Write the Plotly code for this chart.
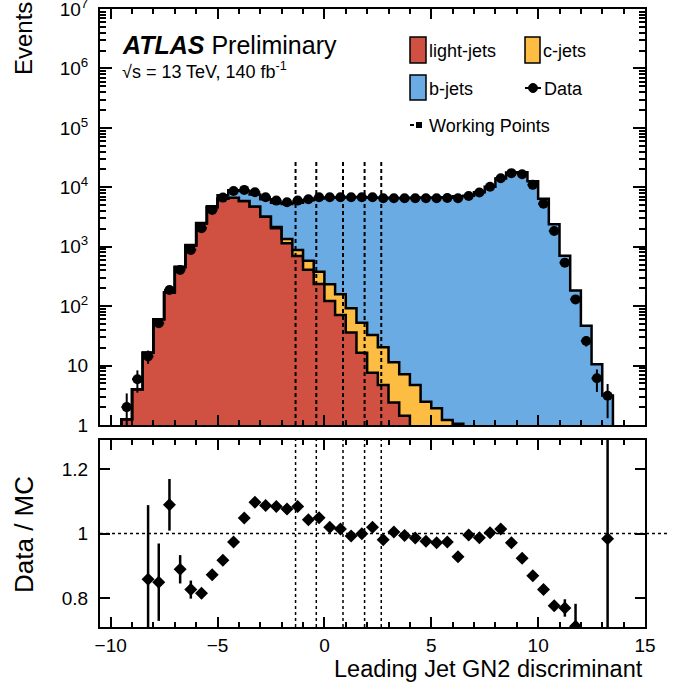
import plotly.graph_objects as go

# ---------------- data ----------------
BIN_EDGES = [-9.5, -9.0, -8.5, -8.0, -7.5, -7.0, -6.5, -6.0, -5.5, -5.0, -4.5, -4.0,
             -3.5, -3.0, -2.5, -2.0, -1.5, -1.0, -0.5, 0.0, 0.5, 1.0, 1.5, 2.0, 2.5,
             3.0, 3.5, 4.0, 4.5, 5.0, 5.5, 6.0, 6.5, 7.0, 7.5, 8.0, 8.5, 9.0, 9.5,
             10.0, 10.5, 11.0, 11.5, 12.0, 12.5, 13.0, 13.5]
BIN_CENTERS = [-9.25, -8.75, -8.25, -7.75, -7.25, -6.75, -6.25, -5.75, -5.25, -4.75,
               -4.25, -3.75, -3.25, -2.75, -2.25, -1.75, -1.25, -0.75, -0.25, 0.25,
               0.75, 1.25, 1.75, 2.25, 2.75, 3.25, 3.75, 4.25, 4.75, 5.25, 5.75, 6.25,
               6.75, 7.25, 7.75, 8.25, 8.75, 9.25, 9.75, 10.25, 10.75, 11.25, 11.75,
               12.25, 12.75, 13.25]

LIGHT_JETS = [1.25, 4.0, 16.5, 60, 170, 455, 1050, 2450, 4630, 6400,
              6700, 5900, 4730, 3200, 2050, 1145, 700, 410, 235, 122,
              71, 36, 16.5, 7.6, 4.7, 2.4, 1.43, 0, 0, 0,
              0, 0, 0, 0, 0, 0, 0, 0, 0, 0,
              0, 0, 0, 0, 0, 0]
C_JETS = [0, 0, 0, 0, 0, 0, 0, 0, 0, 0,
          0, 0, 0, 30, 90, 210, 180, 170, 146, 112,
          88, 56, 36, 25, 15.6, 9, 5.7, 4.7, 2.47, 1.91,
          1.21, 1.05, 0, 0, 0, 0, 0, 0, 0, 0,
          0, 0, 0, 0, 0, 0]
B_JETS = [0, 0, 0, 0, 0, 0, 20, 53, 150, 917,
          2222, 2726, 2800, 3035, 3367, 3859, 4627, 5470, 6111, 6449,
          6557, 6773, 6764, 6650, 6657, 6506, 6583, 6638, 6708, 6744,
          6775, 7057, 7196, 8257, 10230, 14000, 17800, 17900, 12650, 6400,
          2380, 702, 183, 47, 10.5, 3.15]
DATA = [2.0, 5.9, 14.3, 51.5, 187, 406, 883, 2040, 4170, 6710,
        8690, 9040, 8260, 6810, 5970, 5610, 5970, 6310, 6810, 6810,
        6810, 6810, 6810, 6810, 6550, 6550, 6550, 6550, 6550, 6550,
        6600, 6550, 7160, 8150, 10250, 14200, 17300, 16600, 11000, 5300,
        1845, 540, 130, 26, 6.1, 3.1]
DATA_ERR = [1.4, 2.4, 3.6, 7.2, 13.7, 20, 30, 45, 65, 82,
            93, 95, 91, 83, 77, 75, 77, 79, 83, 83,
            83, 83, 83, 83, 81, 81, 81, 81, 81, 81,
            81, 81, 85, 90, 101, 119, 132, 129, 105, 73,
            43, 23, 11.4, 5.1, 2.5, 1.8]
RATIO = [None, None, 0.858, 0.849, 1.089, 0.889, 0.826, 0.815, 0.872, 0.917,
         0.974, 1.048, 1.097, 1.087, 1.084, 1.076, 1.084, 1.043, 1.049, 1.019,
         1.014, 0.992, 0.999, 1.019, 0.981, 1.005, 0.994, 0.986, 0.976, 0.971,
         0.974, 0.928, 0.995, 0.987, 1.002, 1.014, 0.971, 0.923, 0.869, 0.826,
         0.776, 0.769, 0.712, None, None, 0.984]
RATIO_ERR = [0, 0, 0.23, 0.12, 0.08, 0.044, 0.028, 0.016, 0.012, 0.011,
             0.01, 0.011, 0.012, 0.013, 0.014, 0.014, 0.014, 0.013, 0.013, 0.012,
             0.012, 0.012, 0.012, 0.012, 0.012, 0.012, 0.012, 0.012, 0.012, 0.012,
             0.012, 0.012, 0.012, 0.011, 0.01, 0.008, 0.008, 0.008, 0.008, 0.011,
             0.015, 0.027, 0.07, 0, 0, 1.0]
WORKING_POINTS = [-1.35, -0.38, 0.87, 1.88, 2.66]

Y_TICK_VALS = [1, 10, 1e2, 1e3, 1e4, 1e5, 1e6, 1e7]
Y_TICK_TEXT = ["1", "10", "10<sup>2</sup>", "10<sup>3</sup>", "10<sup>4</sup>",
               "10<sup>5</sup>", "10<sup>6</sup>", "10<sup>7</sup>"]
X_TICK_VALS = [-10, -5, 0, 5, 10, 15]
X_TICK_TEXT = ["\u221210", "\u22125", "0", "5", "10", "15"]
R_TICK_VALS = [0.8, 1.0, 1.2]
R_TICK_TEXT = ["0.8", "1", "1.2"]

# ---------------- style ----------------
RED = "#d05042"
ORANGE = "#fdbd42"
BLUE = "#6aabe3"
FONT = "Liberation Sans, Arial, Helvetica, sans-serif"
FLOOR = 1e-3
X_RANGE = [-10.5, 15]
Y_LOG_RANGE = [0, 7.0005]
R_RANGE = [0.71, 1.29]
WP_TOP = 2.7e4

W, H = 674, 690
L, R, T, B = 100, 29, 9, 63
PLOT_W = W - L - R
PLOT_H = H - T - B
TOP_BOTTOM_PX = 425
RATIO_TOP_PX = 440


def fx(p):
    return (p - L) / PLOT_W


def fy(p):
    return (H - B - p) / PLOT_H


def steps(vals):
    xs = [BIN_EDGES[0]] + BIN_EDGES[:-1] + [BIN_EDGES[-1]]
    ys = [FLOOR] + [max(v, FLOOR) for v in vals] + [FLOOR]
    return xs, ys


stack1 = [a for a in LIGHT_JETS]
stack2 = [a + b for a, b in zip(LIGHT_JETS, C_JETS)]
stack3 = [a + b for a, b in zip(stack2, B_JETS)]

fig = go.Figure()

xs, base = steps([FLOOR] * len(LIGHT_JETS))
fig.add_trace(go.Scatter(x=xs, y=base, mode="lines", line=dict(width=0, shape="hv"),
                         hoverinfo="skip", xaxis="x", yaxis="y"))
for vals, col in [(stack1, RED), (stack2, ORANGE), (stack3, BLUE)]:
    sx, sy = steps(vals)
    fig.add_trace(go.Scatter(x=sx, y=sy, mode="lines",
                             line=dict(color="black", width=2.5, shape="hv"),
                             fill="tonexty", fillcolor=col, xaxis="x", yaxis="y"))

# working points (top panel)
wx, wy = [], []
for wp in WORKING_POINTS:
    wx += [wp, wp, None]
    wy += [1, WP_TOP, None]
fig.add_trace(go.Scatter(x=wx, y=wy, mode="lines",
                         line=dict(color="black", width=2, dash="4px,3px"),
                         xaxis="x", yaxis="y"))

# data
fig.add_trace(go.Scatter(
    x=BIN_CENTERS, y=DATA, mode="markers",
    marker=dict(color="black", size=10, symbol="circle"),
    error_y=dict(type="data", array=DATA_ERR, color="black", thickness=2, width=0),
    error_x=dict(type="constant", value=0.25, color="black", thickness=2, width=0),
    xaxis="x", yaxis="y"))

# working points (ratio panel)
rx, ry = [], []
for wp in WORKING_POINTS:
    rx += [wp, wp, None]
    ry += [R_RANGE[0], R_RANGE[1], None]
fig.add_trace(go.Scatter(x=rx, y=ry, mode="lines",
                         line=dict(color="black", width=1.5, dash="3px,3px"),
                         xaxis="x2", yaxis="y2"))

# ratio
fig.add_trace(go.Scatter(
    x=BIN_CENTERS, y=RATIO, mode="markers",
    marker=dict(color="black", size=10, symbol="diamond"),
    error_y=dict(type="data", array=RATIO_ERR, color="black", thickness=2.5, width=0),
    xaxis="x2", yaxis="y2"))

shapes = []
# unity line in ratio panel (extends a bit beyond the frame like the original)
shapes.append(dict(type="line", xref="paper", yref="y2", x0=0, x1=fx(670), y0=1, y1=1,
                   line=dict(color="black", width=1.5, dash="3px,3px")))


def box(x0, x1, y0, y1, col):
    return dict(type="rect", xref="paper", yref="paper", x0=fx(x0), x1=fx(x1),
                y0=fy(y1), y1=fy(y0), fillcolor=col, line=dict(color="black", width=1.5))


shapes.append(box(410, 426, 37, 63, RED))
shapes.append(box(525, 540, 37, 63, ORANGE))
shapes.append(box(410, 426, 75, 100, BLUE))
shapes.append(dict(type="line", xref="paper", yref="paper", x0=fx(525), x1=fx(541),
                   y0=fy(88), y1=fy(88), line=dict(color="black", width=2)))
shapes.append(dict(type="circle", xref="paper", yref="paper", x0=fx(528.5), x1=fx(537.5),
                   y0=fy(92.5), y1=fy(83.5), fillcolor="black", line=dict(color="black", width=1)))
shapes.append(dict(type="line", xref="paper", yref="paper", x0=fx(410), x1=fx(414),
                   y0=fy(125), y1=fy(125), line=dict(color="black", width=2)))
shapes.append(dict(type="rect", xref="paper", yref="paper", x0=fx(416), x1=fx(422),
                   y0=fy(128), y1=fy(122), fillcolor="black", line=dict(color="black", width=0)))

annotations = []


def label(text, x, y, size, xanchor="left", yanchor="middle", angle=0):
    annotations.append(dict(text=text, x=fx(x), y=fy(y), xref="paper", yref="paper",
                            showarrow=False, xanchor=xanchor, yanchor=yanchor,
                            textangle=angle, font=dict(family=FONT, size=size, color="black")))


label("light-jets", 427, 51, 18)
label("c-jets", 541, 51, 18)
label("b-jets", 427, 89, 18)
label("Data", 542, 89, 18)
label("Working Points", 427, 126, 18)
label("<b><i>ATLAS</i></b> Preliminary", 120, 45, 25)
label("\u221As = 13 TeV, 140 fb<sup>-1</sup>", 120, 70, 18)
label("Events", 24, 39, 24, xanchor="center", yanchor="middle", angle=-90)
label("Data / MC", 24, 535, 26, xanchor="center", yanchor="middle", angle=-90)
label("Leading Jet GN2 discriminant", 645, 669, 23.5, xanchor="right", yanchor="middle")

top_dom = [fy(TOP_BOTTOM_PX), 1]
rat_dom = [0, fy(RATIO_TOP_PX)]

common_x = dict(range=X_RANGE, tickmode="array", tickvals=X_TICK_VALS, ticktext=X_TICK_TEXT,
                ticks="inside", ticklen=10, tickwidth=1.5, tickcolor="black",
                minor=dict(dtick=1, tick0=0, ticks="inside", ticklen=5, tickwidth=1.5, tickcolor="black"),
                showline=True, linecolor="black", linewidth=2, mirror="ticks",
                showgrid=False, zeroline=False, automargin=False, ticklabeloverflow="allow",
                tickfont=dict(family=FONT, size=19, color="black"))

minor_log = [k * 10 ** n for n in range(0, 7) for k in range(2, 10)]

fig.update_layout(
    width=W, height=H,
    margin=dict(l=L, r=R, t=T, b=B, autoexpand=False),
    plot_bgcolor="white", paper_bgcolor="white",
    showlegend=False,
    font=dict(family=FONT, color="black"),
    xaxis=dict(common_x, domain=[0, 1], anchor="y", showticklabels=False),
    yaxis=dict(type="log", range=Y_LOG_RANGE, domain=top_dom, anchor="x",
               tickmode="array", tickvals=Y_TICK_VALS, ticktext=Y_TICK_TEXT,
               ticks="inside", ticklen=12, tickwidth=1.5, tickcolor="black",
               minor=dict(tickmode="array", tickvals=minor_log, ticks="inside", ticklen=6,
                          tickwidth=1.5, tickcolor="black"),
               showline=True, linecolor="black", linewidth=2, mirror="ticks",
               showgrid=False, zeroline=False, automargin=False, ticklabelstandoff=6,
               ticklabeloverflow="allow",
               tickfont=dict(family=FONT, size=19, color="black")),
    xaxis2=dict(common_x, domain=[0, 1], anchor="y2", ticklabelstandoff=0),
    yaxis2=dict(range=R_RANGE, domain=rat_dom, anchor="x2",
                tickmode="array", tickvals=R_TICK_VALS, ticktext=R_TICK_TEXT,
                ticks="inside", ticklen=10, tickwidth=1.5, tickcolor="black",
                showline=True, linecolor="black", linewidth=2, mirror="ticks",
                showgrid=False, zeroline=False, automargin=False, ticklabelstandoff=6,
                ticklabeloverflow="allow",
                tickfont=dict(family=FONT, size=19, color="black")),
    shapes=shapes,
    annotations=annotations,
)

fig.write_html("out.html", config={"displayModeBar": False},
               post_script="document.body.style.margin='0';document.body.style.overflow='hidden';")
